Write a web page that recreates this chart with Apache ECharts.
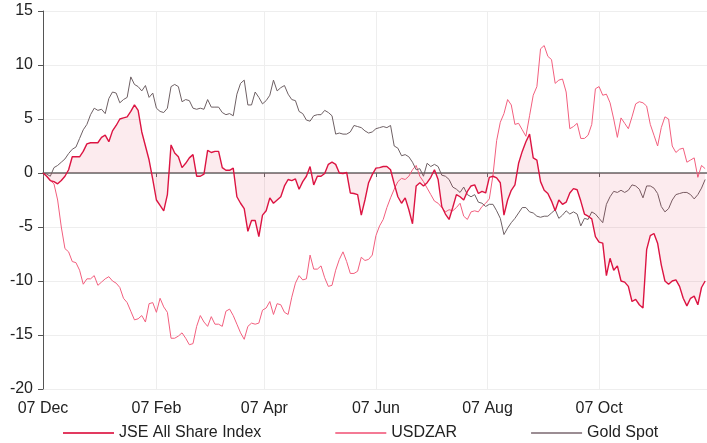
<!DOCTYPE html>
<html>
<head>
<meta charset="utf-8">
<script src="https://cdn.jsdelivr.net/npm/echarts@6/dist/echarts.min.js"></script>
<style>
html, body { margin: 0; padding: 0; background: #fff; }
#chart { width: 707px; height: 443px; }
</style>
</head>
<body>
<div id="chart"></div>
<script>
// days since 07 Dec
var days = [0,2,4,6,8,10,12,14,16,18,20,22,24,26,28,30,32,34,36,38,40,42,44,46,48,50,52,54,56,58,60,62,64,66,68,70,72,74,76,78,80,82,84,86,88,90,92,94,96,98,100,102,104,106,108,110,112,114,116,118,120,122,124,126,128,130,132,134,136,138,140,142,144,146,148,150,152,154,156,158,160,162,164,166,168,170,172,174,176,178,180,182,184,186,188,190,192,194,196,198,200,202,204,206,208,210,212,214,216,218,220,222,224,226,228,230,232,234,236,238,240,242,244,246,248,250,252,254,256,258,260,262,264,266,268,270,272,274,276,278,280,282,284,286,288,290,292,294,296,298,300,302,304,306,308,310,312,314,316,318,320,322,324,326,328,330,332,334,336,338,340,342,344,346,348,350,352,354,356,358,360,362];
var tickDays = [0, 62, 121, 182, 243, 304];
var tickLabels = ['07 Dec', '07 Feb', '07 Apr', '07 Jun', '07 Aug', '07 Oct'];

// JSE All Share Index (%)
var jse = [0,-0.3,-0.7,-0.8,-1.0,-0.7,-0.3,0.3,1.5,1.5,1.5,2.0,2.7,2.8,2.8,2.8,3.3,3.5,2.9,3.9,4.4,5.0,5.1,5.2,5.7,6.3,5.8,3.8,2.5,1.2,-0.6,-2.5,-3.0,-3.5,-2.0,2.6,1.85,1.5,0.5,0.9,1.4,1.7,-0.3,-0.3,-0.1,2.1,
  1.9,2.0,2.0,0.5,0.25,0.25,0.45,-2.2,-2.8,-3.3,-5.4,-4.4,-4.4,-5.9,-3.9,-3.5,-2.3,-2.8,-2.5,-2.2,-1.2,-0.6,-0.7,-0.55,-1.5,-0.8,-0.3,0.6,-1.1,-0.3,-0.3,-0.05,0.8,1.0,0.8,0,-0.05,0.05,-1.85,-1.9,-2.0,-3.9,-2.5,-0.9,-0.15,
  0.45,0.5,0.6,0.6,0.3,-1.0,-2.2,-2.8,-2.3,-3.4,-4.7,-1.2,-0.9,-1.2,-0.9,-0.4,0.3,-0.6,-3.1,-3.8,-4.3,-3.2,-2.0,-2.2,-2.5,-1.7,-1.2,-1.1,-1.9,-1.7,-1.85,-0.4,-0.3,-0.45,-0.9,-3.9,-2.5,-1.6,-1.1,0.9,2.0,2.9,3.6,1.4,1.2,
  -0.8,-1.6,-1.9,-2.6,-3.5,-2.5,-2.9,-2.7,-1.85,-1.45,-1.55,-2.6,-3.8,-4.0,-4.25,-5.9,-6.4,-6.5,-9.5,-7.9,-9.0,-8.6,-10.0,-10.1,-10.5,-11.9,-11.7,-12.2,-12.5,-7.1,-5.8,-5.6,-6.5,-8.5,-10.0,-10.3,-10.0,-9.9,-10.5,-11.6,-12.3,-11.6,-11.4,-12.2,-10.6,-10.0];

// USDZAR (%)
var usdzar = [0,-0.3,-0.7,-1.0,-2.5,-5.0,-7.0,-7.3,-8.2,-8.3,-9.0,-10.3,-9.8,-9.8,-9.5,-10.4,-10.1,-9.8,-9.6,-10.0,-10.2,-10.6,-11.6,-12.0,-12.8,-13.6,-13.5,-13.2,-13.8,-12.1,-12.0,-12.9,-11.6,-12.4,-12.9,-15.3,-15.3,-15.1,-14.8,-15.3,-15.9,-15.8,-14.2,-13.2,
  -13.8,-14.2,-13.3,-14.0,-14.0,-14.2,-12.8,-12.6,-13.2,-14.0,-14.8,-15.4,-14.2,-13.9,-14.0,-13.9,-12.7,-12.5,-11.9,-13.1,-12.1,-12.2,-12.9,-13.1,-11.5,-10.2,-9.5,-9.9,-9.8,-7.6,-8.9,-8.9,-8.6,-9.7,-10.5,-10.4,-9.0,-8.0,-7.3,-8.2,-9.3,-9.3,-9.1,-7.8,-8.1,-8.0,-7.6,-5.8,-4.9,-4.3,-3.2,-2.3,
  -1.5,-0.8,-0.5,-0.6,-0.3,0.3,0.7,-0.3,-0.8,-1.4,-2.0,-2.6,-2.8,-3.2,-3.6,-3.4,-3.5,-3.2,-2.8,-4.0,-4.3,-3.6,-3.5,-3.6,-3.1,-2.8,-2.4,-0.2,3.0,4.7,5.5,6.8,6.3,4.5,4.6,4.0,3.4,5.3,7.2,8.0,11.5,11.8,10.8,10.5,8.3,8.6,8.7,7.5,4.1,4.3,4.6,3.2,3.2,3.5,4.5,7.8,8.0,7.2,7.3,6.5,5.0,3.3,5.1,4.6,4.1,5.2,6.4,6.6,6.5,6.2,4.5,3.5,2.5,4.2,5.2,5.0,2.5,1.9,2.2,2.3,1.0,1.2,1.4,-0.4,0.7,0.4];

// Gold Spot (%)
var gold = [0,-0.1,-0.3,0.5,0.7,1.0,1.3,1.8,2.2,2.4,3.2,4.0,4.5,5.4,6.0,5.8,5.9,5.5,6.9,7.5,7.4,6.5,6.8,7.0,8.9,8.2,8.0,7.6,8.1,7.0,7.4,6.0,5.7,5.6,6.0,8.0,8.2,8.0,6.6,6.8,6.7,6.0,5.9,6.0,5.9,6.8,
  6.1,6.1,6.1,5.6,5.4,5.5,5.3,7.3,8.3,8.6,6.3,6.3,7.5,7.0,6.4,6.7,7.2,8.6,7.6,7.9,8.1,7.3,6.8,6.7,5.7,5.5,4.9,4.8,5.3,5.4,5.4,5.8,5.6,5.3,3.6,3.7,3.6,3.6,3.8,4.4,4.3,4.2,3.9,3.7,3.8,
  4.1,4.2,4.3,4.2,4.4,2.5,2.3,1.6,1.7,1.5,1.0,0.3,0.4,-0.3,0.9,0.6,0.8,0.6,-0.2,-0.3,-0.6,-1.3,-1.5,-1.8,-1.3,-2.0,-2.2,-2.0,-2.7,-2.8,-3.1,-2.9,-2.9,-3.5,-4.2,-5.7,-5.1,-4.6,-4.2,-3.7,-3.2,-3.2,-3.6,-3.7,-4.0,
  -4.1,-4.0,-4.0,-3.7,-3.4,-4.2,-3.9,-3.5,-3.8,-3.6,-3.8,-4.9,-4.2,-4.3,-3.6,-3.8,-4.2,-4.6,-2.9,-2.2,-1.7,-1.8,-1.6,-1.8,-1.6,-1.1,-1.2,-1.5,-2.3,-1.2,-1.2,-1.4,-1.9,-3.1,-3.6,-3.3,-2.5,-2.0,-1.9,-1.8,-1.8,-2.0,-2.4,-2.0,-1.4,-0.6];

var pairs = function (vals) {
    return days.map(function (d, i) { return [d, vals[i]]; });
};

var chart = echarts.init(document.getElementById('chart'));
var font = 'Liberation Sans, Arial, sans-serif';

var option = {
    animation: false,
    textStyle: { fontFamily: font },
    grid: { left: 43, right: 0, top: 11, bottom: 54 },
    legend: {
        left: 58,
        top: 420,
        icon: 'rect',
        itemWidth: 51,
        itemHeight: 2,
        itemGap: 74,
        textStyle: { fontSize: 16, color: '#222', fontFamily: font },
        data: ['JSE All Share Index', 'USDZAR', 'Gold Spot']
    },
    xAxis: [
        {
            // zero line with small ticks
            type: 'value',
            min: 0,
            max: 363,
            axisLine: { onZero: true, lineStyle: { color: '#666', width: 1.5 } },
            axisTick: { show: true, length: 4, customValues: tickDays, lineStyle: { color: '#666' } },
            axisLabel: { show: false },
            splitLine: { show: false }
        },
        {
            type: 'value',
            position: 'bottom',
            min: 0,
            max: 363,
            axisLine: { show: false, onZero: false },
            axisTick: { show: false, customValues: tickDays },
            axisLabel: {
                customValues: tickDays,
                margin: 12,
                fontSize: 16,
                color: '#222',
                formatter: function (v) { return tickLabels[tickDays.indexOf(v)] || ''; }
            },
            splitLine: { show: true, lineStyle: { color: '#eeeeee' } }
        }
    ],
    yAxis: {
        type: 'value',
        min: -20,
        max: 15,
        interval: 5,
        axisLine: { show: true, onZero: false, lineStyle: { color: '#555' } },
        axisTick: { show: true, length: 5, lineStyle: { color: '#555' } },
        axisLabel: { fontSize: 16, color: '#222', margin: 10 },
        splitLine: { lineStyle: { color: '#eeeeee' } }
    },
    series: [
        {
            name: 'JSE All Share Index',
            type: 'line',
            xAxisIndex: 0,
            data: pairs(jse),
            showSymbol: false,
            symbol: 'none',
            z: 3,
            lineStyle: { color: '#dc1442', width: 1.4 },
            itemStyle: { color: '#e23a60' },
            areaStyle: { color: 'rgba(220, 20, 60, 0.12)', origin: 0 }
        },
        {
            name: 'USDZAR',
            type: 'line',
            xAxisIndex: 0,
            data: pairs(usdzar),
            showSymbol: false,
            symbol: 'none',
            z: 2,
            lineStyle: { color: '#f25f7e', width: 1 },
            itemStyle: { color: '#f47a95' }
        },
        {
            name: 'Gold Spot',
            type: 'line',
            xAxisIndex: 0,
            data: pairs(gold),
            showSymbol: false,
            symbol: 'none',
            z: 2,
            lineStyle: { color: '#6e6064', width: 1 },
            itemStyle: { color: '#9b8d93' }
        }
    ]
};
chart.setOption(option);
</script>
</body>
</html>
